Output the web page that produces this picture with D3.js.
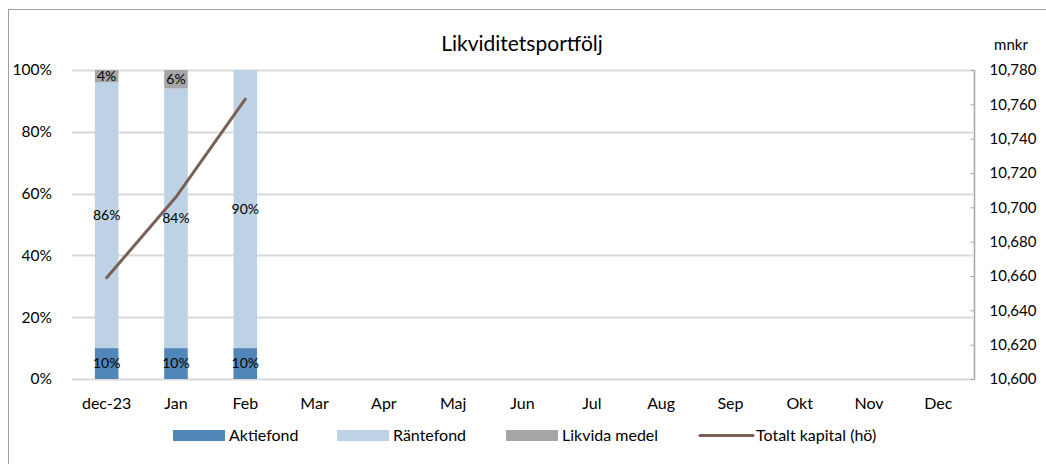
<!DOCTYPE html>
<html>
<head>
<meta charset="utf-8">
<script src="https://cdn.jsdelivr.net/npm/d3@7"></script>
<style>
  body { margin: 0; background: #fff; }
  svg text { font-family: Lato, "Open Sans", sans-serif; fill: #000; }
</style>
</head>
<body>
<svg id="chart" width="1046" height="464"></svg>
<script>
// data
const months = ['dec-23', 'Jan', 'Feb', 'Mar', 'Apr', 'Maj', 'Jun', 'Jul', 'Aug', 'Sep', 'Okt', 'Nov', 'Dec'];
const aktiefond = [10, 10, 10];
const rantefond = [86, 84, 90];
const likvida = [4, 6, 0];
const totaltKapital = [10659, 10706, 10763];
const leftTicks = [0, 20, 40, 60, 80, 100];
const rightTicks = [10600, 10620, 10640, 10660, 10680, 10700, 10720, 10740, 10760, 10780];

const seriesNames = ['Aktiefond', 'Räntefond', 'Likvida medel'];
const colors = ['#5087b8', '#bed2e5', '#a6a6a6'];
const lineColor = '#7a6158';

const W = 1046, H = 464;
const plot = { left: 72, right: 973, top: 70, bottom: 379 };

const svg = d3.select('#chart');

// outer frame (only top and left edges are visible in the crop)
svg.append('rect')
    .attr('x', 8.5).attr('y', 9.5)
    .attr('width', W + 20).attr('height', H + 20)
    .attr('fill', 'none')
    .attr('stroke', '#a0a0a0')
    .attr('stroke-width', 1);

const x = d3.scaleBand().domain(months).range([plot.left, plot.right]).paddingInner(0.66).paddingOuter(0.33);
const y = d3.scaleLinear().domain([0, 100]).range([plot.bottom, plot.top]);
const y2 = d3.scaleLinear().domain([10600, 10780]).range([plot.bottom, plot.top]);

// gridlines
svg.append('g')
    .selectAll('line')
    .data(leftTicks)
    .join('line')
    .attr('x1', plot.left).attr('x2', plot.right)
    .attr('y1', d => Math.round(y(d)) + 0.5).attr('y2', d => Math.round(y(d)) + 0.5)
    .attr('stroke', '#d9d9d9')
    .attr('stroke-width', 2);

// stacked bars
const table = months.slice(0, aktiefond.length).map((m, i) => ({
    month: m, a: aktiefond[i], r: rantefond[i], l: likvida[i]
}));
const stacked = d3.stack().keys(['a', 'r', 'l'])(table);

const layers = svg.append('g')
    .selectAll('g')
    .data(stacked)
    .join('g')
    .attr('fill', (d, i) => colors[i]);

layers.selectAll('rect')
    .data(d => d)
    .join('rect')
    .attr('x', d => x(d.data.month))
    .attr('width', x.bandwidth())
    .attr('y', d => y(d[1]))
    .attr('height', d => y(d[0]) - y(d[1]));

// data labels
layers.selectAll('text')
    .data(d => d.filter(v => v[1] - v[0] > 0))
    .join('text')
    .attr('x', d => x(d.data.month) + x.bandwidth() / 2)
    .attr('y', d => (y(d[0]) + y(d[1])) / 2)
    .attr('dy', '0.35em')
    .attr('text-anchor', 'middle')
    .attr('font-size', '14px')
    .text(d => Math.round(d[1] - d[0]) + '%');

// right axis line
svg.append('line')
    .attr('x1', plot.right + 1.5).attr('x2', plot.right + 1.5)
    .attr('y1', plot.top).attr('y2', plot.bottom + 1)
    .attr('stroke', '#a6a6a6')
    .attr('stroke-width', 1.5);

// total capital line
const line = d3.line()
    .x((d, i) => x(months[i]) + x.bandwidth() / 2)
    .y(d => y2(d));
svg.append('path')
    .datum(totaltKapital)
    .attr('d', line)
    .attr('fill', 'none')
    .attr('stroke', lineColor)
    .attr('stroke-width', 3)
    .attr('stroke-linecap', 'round');

// left axis
const leftAxis = svg.append('g')
    .attr('transform', `translate(${plot.left - 17},0)`)
    .call(d3.axisLeft(y).tickValues(leftTicks).tickSize(0).tickFormat(d => d + '%'));
leftAxis.select('.domain').remove();
leftAxis.selectAll('text').attr('font-size', '15.5px').attr('fill', '#000');

// right axis
const rightAxis = svg.append('g')
    .attr('transform', `translate(${plot.right + 1.5},0)`)
    .call(d3.axisRight(y2).tickValues(rightTicks).tickSize(0).tickPadding(15).tickFormat(d3.format(',')));
rightAxis.select('.domain').remove();
rightAxis.selectAll('text').attr('font-size', '15px').attr('fill', '#000');
rightAxis.selectAll('.tick').append('line')
    .attr('x1', -4).attr('x2', 0)
    .attr('stroke', '#a6a6a6');

// x axis
const xAxis = svg.append('g')
    .attr('transform', `translate(0,${plot.bottom + 15})`)
    .call(d3.axisBottom(x).tickSize(0).tickPadding(4));
xAxis.select('.domain').remove();
xAxis.selectAll('text').attr('font-size', '16px').attr('fill', '#000');

// titles
svg.append('text')
    .attr('x', 522).attr('y', 51)
    .attr('text-anchor', 'middle')
    .attr('font-size', '21px')
    .text('Likviditetsportfölj');
svg.append('text')
    .attr('x', 1011).attr('y', 50)
    .attr('text-anchor', 'middle')
    .attr('font-size', '15px')
    .text('mnkr');

// legend
const legendItems = [
    { name: seriesNames[0], color: colors[0], type: 'rect', x: 173 },
    { name: seriesNames[1], color: colors[1], type: 'rect', x: 337 },
    { name: seriesNames[2], color: colors[2], type: 'rect', x: 506 },
    { name: 'Totalt kapital (hö)', color: lineColor, type: 'line', x: 699 }
];
const legend = svg.append('g').attr('transform', 'translate(0,435)');
const li = legend.selectAll('g').data(legendItems).join('g')
    .attr('transform', d => `translate(${d.x},0)`);
li.filter(d => d.type === 'rect').append('rect')
    .attr('x', 0).attr('y', -5).attr('width', 52).attr('height', 11)
    .attr('fill', d => d.color);
li.filter(d => d.type === 'line').append('line')
    .attr('x1', 1).attr('x2', 54).attr('y1', 0.5).attr('y2', 0.5)
    .attr('stroke', d => d.color).attr('stroke-width', 3).attr('stroke-linecap', 'round');
li.append('text')
    .attr('x', d => d.type === 'line' ? 57 : 56).attr('y', 0).attr('dy', '0.35em')
    .attr('font-size', '16px')
    .text(d => d.name);
</script>
</body>
</html>
